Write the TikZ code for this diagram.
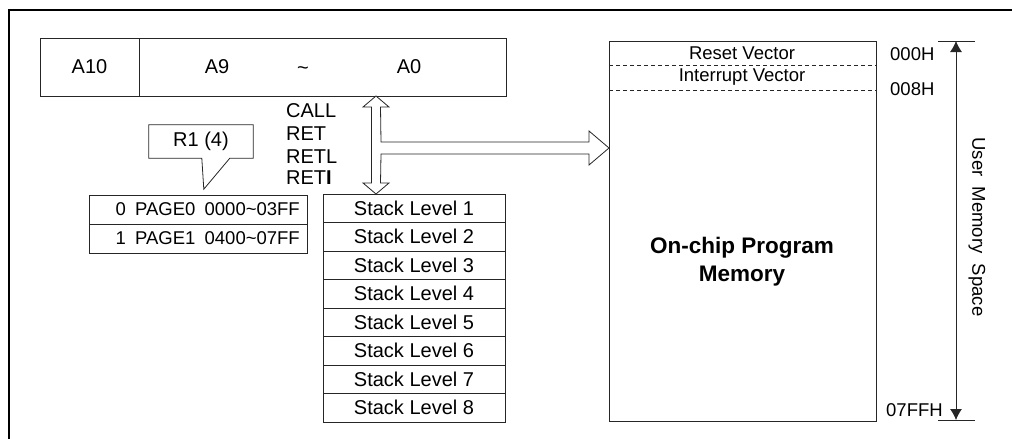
\documentclass[tikz,border=0pt]{standalone}
\usepackage{fontspec}
\setmainfont{Liberation Sans}
\usetikzlibrary{arrows.meta,calc}
\begin{document}
\begin{tikzpicture}[x=1pt,y=-1pt,
  box/.style={draw=black!85, line width=0.8pt, inner sep=0pt, outer sep=0pt, anchor=north west},
  txt/.style={inner sep=0pt},
  big/.style={font=\fontsize{20}{24}\selectfont},
  mid/.style={font=\fontsize{18.5}{22}\selectfont},
  bold/.style={font=\fontsize{22.5}{27}\selectfont\bfseries},
  vec/.style={-{Latex[length=11pt,width=12pt]}, line width=0.8pt, draw=black!85},
  hollow/.style={draw=black!85, fill=white, line width=0.8pt, line join=miter},
]
\useasboundingbox (0,0) rectangle (1012,439);
% outer frame
\draw[line width=2pt] (9,439) -- (9,10) -- (1012,10);

% address register
\node[box, minimum width=99pt, minimum height=58pt] (a10) at (40,38) {};
\node[box, minimum width=367pt, minimum height=58pt] (alow) at (139,38) {};
\node[txt, big] (ta10) at (a10.center) {A10};
\node[txt, big] (ta9) at (217,67) {A9};
\node[txt, big] (ttl) at (303,71) {\textasciitilde};
\node[txt, big] (ta0) at (409,67) {A0};

% instruction labels
\node[txt, big, anchor=west] (call) at (286,111) {CALL};
\node[txt, big, anchor=west] (ret) at (286,134) {RET};
\node[txt, big, anchor=west] (retl) at (286,157) {RETL};
\node[txt, big, anchor=west] (reti) at (286,178) {RET\textbf{I}};

% callout R1 (4)
\node[txt, big, minimum width=104pt, minimum height=33pt] (r1) at (201,141.5) {R1 (4)};
\draw[draw=black!85, line width=0.8pt]
  (r1.north west) -- (r1.north east) -- (r1.south east) -- ($(r1.south west)+(81,0)$)
  -- ($(r1.south west)+(55,31)$) -- ($(r1.south west)+(53,0)$) -- (r1.south west) -- cycle;

% page table
\node[box, minimum width=218pt, minimum height=29pt] (p0) at (89,195) {};
\node[box, minimum width=218pt, minimum height=29pt] (p1) at (89,224) {};
\node[txt, mid, anchor=east] (tp0) at ($(p0.east)+(-7,0)$) {0\enspace PAGE0\enspace 0000\textasciitilde03FF};
\node[txt, mid, anchor=east] (tp1) at ($(p1.east)+(-7,0)$) {1\enspace PAGE1\enspace 0400\textasciitilde07FF};

% stack
\foreach \i in {1,...,8} {
  \pgfmathsetmacro{\yy}{194+28.5*(\i-1)}
  \node[box, big, minimum width=182pt, minimum height=28.5pt] (s\i) at (323,\yy) {Stack Level \i};
}

% program memory
\node[box, minimum width=267pt, minimum height=380pt] (mem) at (609,41) {};
\draw[dash pattern=on 4pt off 3pt, draw=black!85, line width=0.8pt] (mem.west |- 0,65) -- (mem.east |- 0,65);
\draw[dash pattern=on 4pt off 3pt, draw=black!85, line width=0.8pt] (mem.west |- 0,90) -- (mem.east |- 0,90);
\node[txt, mid] (rv) at (742,53) {Reset Vector};
\node[txt, mid] (iv) at (742,77.5) {Interrupt Vector};
\node[txt, bold, align=center] (ocp) at (742,262) {On-chip Program\\[1pt]Memory};

% hollow arrows
\coordinate (up) at (a10.south -| 376,0);
\coordinate (dn) at (s1.north -| 376,0);
\coordinate (rt) at (mem.west |- 0,148);
\draw[hollow]
  (up) -- ($(up)+(13,11)$) -- ($(up)+(4.5,11)$) -- ($(rt)+(-228,-6)$) -- ($(rt)+(-20,-6)$)
  -- ($(rt)+(-20,-17)$) -- (rt) -- ($(rt)+(-20,17)$) -- ($(rt)+(-20,6)$) -- ($(rt)+(-228,6)$)
  -- ($(dn)+(4.5,-11)$) -- ($(dn)+(13,-11)$) -- (dn) -- ($(dn)+(-13,-11)$) -- ($(dn)+(-4.5,-11)$)
  -- ($(up)+(-4.5,11)$) -- ($(up)+(-13,11)$) -- cycle;

% address labels
\node[txt, mid, anchor=west] (h000) at (890,54) {000H};
\node[txt, mid, anchor=west] (h008) at (890,89) {008H};
\node[txt, mid, anchor=west] (h7ff) at (886,410) {07FFH};

% user memory space dimension
\coordinate (dt) at (956,41);
\coordinate (db) at (956,420);
\draw[line width=0.8pt, draw=black!85] ($(dt)+(-18,0)$) -- ($(dt)+(19,0)$);
\draw[line width=0.8pt, draw=black!85] ($(db)+(-18,0)$) -- ($(db)+(19,0)$);
\draw[vec] ($(dt)!0.5!(db)$) -- (dt);
\draw[vec] ($(dt)!0.5!(db)$) -- (db);
\node[txt, mid, rotate=-90] (ums) at (977,227) {User\ \ Memory\ \ Space};
\end{tikzpicture}
\end{document}
